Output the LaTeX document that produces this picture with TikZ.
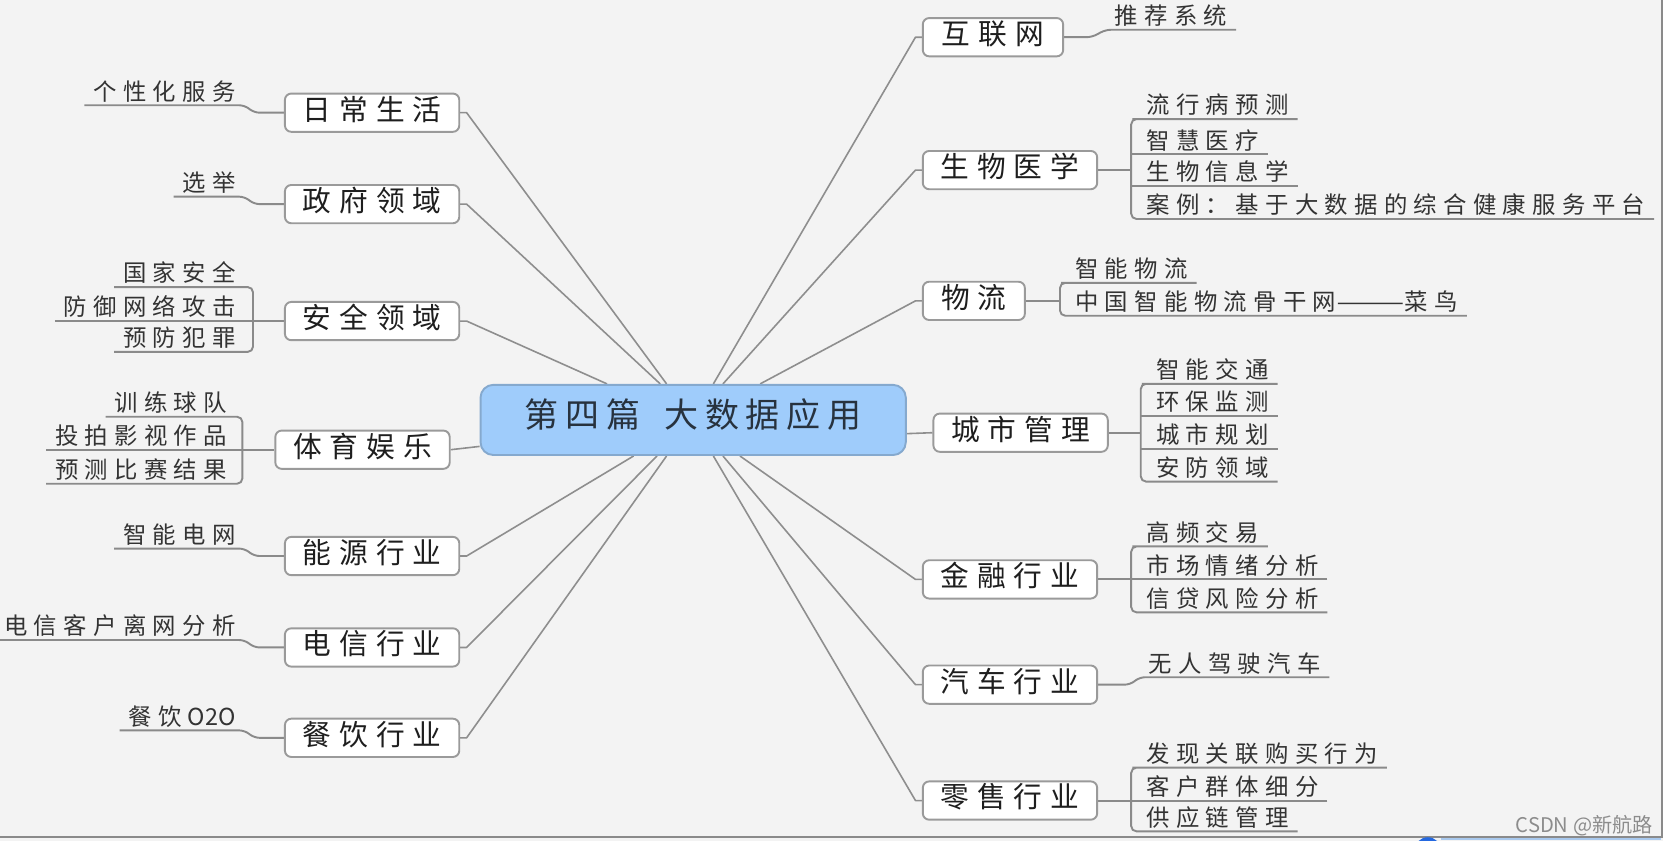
\documentclass[tikz,border=0pt]{standalone}
\usepackage{fontspec}
\usepackage{graphicx}
\setmainfont{Noto Sans CJK SC}
\usetikzlibrary{calc}
\definecolor{bgc}{HTML}{F3F3F3}
\definecolor{boxgray}{HTML}{9A9A9A}
\definecolor{linegray}{HTML}{8E8E8E}
\definecolor{ulgray}{HTML}{8A8A8A}
\definecolor{titlefill}{HTML}{9FCCFB}
\definecolor{titledraw}{HTML}{85A9CE}
\definecolor{titletxt}{HTML}{27323E}
\definecolor{maintxt}{HTML}{1E1E1E}
\definecolor{leaftxt}{HTML}{333333}
\definecolor{wmgray}{HTML}{8C8C8C}
\definecolor{framegray}{HTML}{8A8A8A}
\definecolor{blobblue}{HTML}{2468E0}
\definecolor{lightblue}{HTML}{A9C9EE}

\def\cjkgap{0.27em}
\def\spgap{\hspace{\cjkgap}}
\def\gobblethree#1#2#3{}
\def\spx#1{\spxa#1\relax}
\def\spxa#1#2{#1\ifx#2\relax\expandafter\gobblethree\fi\spgap\spxa#2}

\pgfdeclarelayer{bglayer}
\pgfdeclarelayer{linelayer}
\pgfsetlayers{bglayer,linelayer,main}

\tikzset{
 mainbox/.style={draw=boxgray, fill=white, rounded corners=3pt, line width=0.9pt, minimum width=82pt, minimum height=18pt, inner sep=0pt, text=maintxt, text height=0.8em, text depth=0.1em, font=\fontsize{13.5}{16}\selectfont\def\cjkgap{0.28em}},
 leafbase/.style={inner xsep=4pt, inner ysep=1.2pt, text=leaftxt, text height=0.8em, text depth=0.1em, font=\fontsize{11}{13}\selectfont\def\cjkgap{0.27em}},
 leafL/.style={leafbase, anchor=south east},
 leafR/.style={leafbase, anchor=south west},
 conn/.style={draw=linegray, line width=0.75pt, line join=round},
 uline/.style={draw=ulgray, line width=0.9pt, rounded corners=2.5pt},
}

\begin{document}
\begin{tikzpicture}[x=0.5pt,y=-0.5pt]
\useasboundingbox (0,0) rectangle (1568,791);
\begin{pgfonlayer}{bglayer}
\fill[bgc] (0,0) rectangle (1568,791);
\fill[white] (1564,0) rectangle (1568,791);
\end{pgfonlayer}

% centre
\node[draw=titledraw, fill=titlefill, line width=0.9pt, rounded corners=6pt, minimum width=200pt, minimum height=33pt, inner sep=0pt, text=titletxt, text height=0.8em, text depth=0.1em, font=\fontsize{16}{19}\selectfont\def\cjkgap{0.2em}] (c) at (652,395) {\spx{第四篇}\hspace{0.7em}\spx{大数据应用}};

% left main nodes
\node[mainbox] (r1) at (350,106) {\spx{日常生活}};
\node[mainbox] (r2) at (350,192) {\spx{政府领域}};
\node[mainbox] (r3) at (350,302) {\spx{安全领域}};
\node[mainbox] (r4) at (341,423) {\spx{体育娱乐}};
\node[mainbox] (r5) at (350,523) {\spx{能源行业}};
\node[mainbox] (r6) at (350,609) {\spx{电信行业}};
\node[mainbox] (r7) at (350,694) {\spx{餐饮行业}};

% right main nodes
\node[mainbox, minimum width=66pt] (q1) at (934,35) {\spx{互联网}};
\node[mainbox] (q2) at (950,160) {\spx{生物医学}};
\node[mainbox, minimum width=48pt] (q3) at (916,283) {\spx{物流}};
\node[mainbox] (q4) at (960,407) {\spx{城市管理}};
\node[mainbox] (q5) at (950,545) {\spx{金融行业}};
\node[mainbox] (q6) at (950,644) {\spx{汽车行业}};
\node[mainbox] (q7) at (950,753) {\spx{零售行业}};

% left leaves
\node[leafL] (a1) at (230,99) {\spx{个性化服务}};
\node[leafL] (a2) at (230,185) {\spx{选举}};
\node[leafL] (a3) at (230,270) {\spx{国家安全}};
\node[leafL] (a4) at (230,302) {\spx{防御网络攻击}};
\node[leafL] (a5) at (230,331) {\spx{预防犯罪}};
\node[leafL] (a6) at (222,392) {\spx{训练球队}};
\node[leafL] (a7) at (222,423) {\spx{投拍影视作品}};
\node[leafL] (a8) at (222,455) {\spx{预测比赛结果}};
\node[leafL] (a9) at (230,516) {\spx{智能电网}};
\node[leafL] (a10) at (230,602) {\spx{电信客户离网分析}};
\node[leafL] (a11) at (230,687) {\spx{餐饮}\spgap O2O};

% right leaves
\node[leafR] (b0) at (1040,28) {\spx{推荐系统}};
\node[leafR] (b1) at (1070,112) {\spx{流行病预测}};
\node[leafR] (b2) at (1070,145) {\spx{智慧医疗}};
\node[leafR] (b3) at (1070,175) {\spx{生物信息学}};
\node[leafR] (b4) at (1070,206) {\spx{案例：基于大数据的综合健康服务平台}};
\node[leafR] (b5) at (1003,266) {\spx{智能物流}};
\node[leafR] (b6) at (1003,297) {\spx{中国智能物流骨干网}\scalebox{1.75}[1]{——}\spx{菜鸟}};
\node[leafR] (b7) at (1079,361) {\spx{智能交通}};
\node[leafR] (b8) at (1079,391) {\spx{环保监测}};
\node[leafR] (b9) at (1079,422) {\spx{城市规划}};
\node[leafR] (b10) at (1079,453) {\spx{安防领域}};
\node[leafR] (b11) at (1070,514) {\spx{高频交易}};
\node[leafR] (b12) at (1070,545) {\spx{市场情绪分析}};
\node[leafR] (b13) at (1070,576) {\spx{信贷风险分析}};
\node[leafR] (b14) at (1072,637) {\spx{无人驾驶汽车}};
\node[leafR] (b15) at (1070,722) {\spx{发现关联购买行为}};
\node[leafR] (b16) at (1070,753) {\spx{客户群体细分}};
\node[leafR] (b17) at (1070,782) {\spx{供应链管理}};

% watermark
\node[anchor=base east, inner sep=0pt, text=wmgray, font=\fontsize{9.5}{11}\selectfont] (wm) at (1555,783) {CSDN @新航路};

\begin{pgfonlayer}{linelayer}
% centre to left nodes
\draw[conn] (r1.east) -- ++(6,0) -- ($(c.north)+(-25,0)$);
\draw[conn] (r2.east) -- ++(6,0) -- ($(c.north)+(-31,0)$);
\draw[conn] (r3.east) -- ++(6,0) -- ($(c.north)+(-81,0)$);
\draw[conn] (r4.east) -- ($(c.south west)+(0,-9)$);
\draw[conn] (r5.east) -- ++(6,0) -- ($(c.south)+(-56,0)$);
\draw[conn] (r6.east) -- ++(6,0) -- ($(c.south)+(-34,0)$);
\draw[conn] (r7.east) -- ++(6,0) -- ($(c.south)+(-25,0)$);
% centre to right nodes
\draw[conn] ($(c.north)+(19,0)$) -- ($(q1.west)+(-6,0)$) -- (q1.west);
\draw[conn] ($(c.north)+(28,0)$) -- ($(q2.west)+(-6,0)$) -- (q2.west);
\draw[conn] ($(c.north)+(63,0)$) -- ($(q3.west)+(-6,0)$) -- (q3.west);
\draw[conn] ($(c.south east)+(0,-21)$) -- (q4.west);
\draw[conn] ($(c.south)+(44,0)$) -- ($(q5.west)+(-6,0)$) -- (q5.west);
\draw[conn] ($(c.south)+(28,0)$) -- ($(q6.west)+(-6,0)$) -- (q6.west);
\draw[conn] ($(c.south)+(19,0)$) -- ($(q7.west)+(-6,0)$) -- (q7.west);

% left leaves
\draw[uline] (a1.south west) -- (a1.south east) -- ($(r1.west)+(-28,0)$) -- (r1.west);
\draw[uline] (a2.south west) -- (a2.south east) -- ($(r2.west)+(-28,0)$) -- (r2.west);
\draw[uline] (a3.south west) -| ($(a5.south east)+(8,0)$) -- (a5.south west);
\draw[uline] (a4.south west) -- (r3.west);
\draw[uline] (a6.south west) -| ($(a8.south east)+(6,0)$) -- (a8.south west);
\draw[uline] (a7.south west) -- (r4.west);
\draw[uline] (a9.south west) -- (a9.south east) -- ($(r5.west)+(-28,0)$) -- (r5.west);
\draw[uline] (a10.south west) -- (a10.south east) -- ($(r6.west)+(-28,0)$) -- (r6.west);
\draw[uline] (a11.south west) -- (a11.south east) -- ($(r7.west)+(-28,0)$) -- (r7.west);

% right leaves
\draw[uline] (q1.east) -- ($(q1.east)+(26,0)$) -- (b0.south west) -- (b0.south east);
% biomedicine
\draw[uline] (b1.south east) -- (b1.south west) -| ($(b4.south west)+(-6,0)$) -- (b4.south east);
\draw[uline] (b2.south east) -- ($(b2.south west)+(-6,0)$);
\draw[uline] (b3.south east) -- ($(b3.south west)+(-6,0)$);
\draw[uline] (q2.east) -- ($(q2.east -| b1.south west)+(-6,0)$);
% logistics
\draw[uline] (b5.south east) -- (b5.south west) -| ($(b6.south west)+(-6,0)$) -- (b6.south east);
\draw[uline] (q3.east) -- ($(q3.east -| b5.south west)+(-6,0)$);
% city
\draw[uline] (b7.south east) -- (b7.south west) -| ($(b10.south west)+(-6,0)$) -- (b10.south east);
\draw[uline] (b8.south east) -- ($(b8.south west)+(-6,0)$);
\draw[uline] (b9.south east) -- ($(b9.south west)+(-6,0)$);
\draw[uline] (q4.east) -- ($(q4.east -| b7.south west)+(-6,0)$);
% finance
\draw[uline] (b11.south east) -- (b11.south west) -| ($(b13.south west)+(-6,0)$) -- (b13.south east);
\draw[uline] (b12.south east) -- ($(b12.south west)+(-6,0)$);
\draw[uline] (q5.east) -- ($(q5.east -| b11.south west)+(-6,0)$);
% car
\draw[uline] (q6.east) -- ($(q6.east)+(30,0)$) -- (b14.south west) -- (b14.south east);
% retail
\draw[uline] (b15.south east) -- (b15.south west) -| ($(b17.south west)+(-6,0)$) -- (b17.south east);
\draw[uline] (b16.south east) -- ($(b16.south west)+(-6,0)$);
\draw[uline] (q7.east) -- ($(q7.east -| b15.south west)+(-6,0)$);
\end{pgfonlayer}

% frame of the screenshot
\draw[framegray, line width=1.1pt] (1563.5,0) -- (1563.5,787) -- (0,787);
\draw[lightblue, line width=1pt] (1355,789) -- (1562,789);
\fill[blobblue] (1343,800) circle[radius=6.25pt];
\end{tikzpicture}
\end{document}
